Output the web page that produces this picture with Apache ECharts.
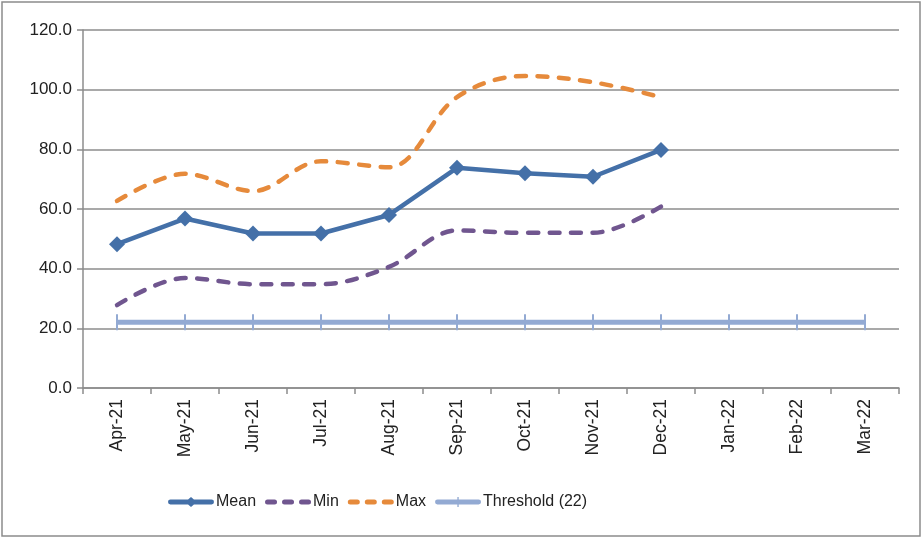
<!DOCTYPE html>
<html>
<head>
<meta charset="utf-8">
<script src="https://cdn.jsdelivr.net/npm/echarts@6/dist/echarts.min.js"></script>
<style>
  html, body { margin: 0; padding: 0; background: #fff; }
  #chart { width: 923px; height: 540px; }
</style>
</head>
<body>
<div id="chart"></div>
<script>
// Monthly readings, April 2021 – March 2022
const months = ['Apr-21', 'May-21', 'Jun-21', 'Jul-21', 'Aug-21', 'Sep-21',
                'Oct-21', 'Nov-21', 'Dec-21', 'Jan-22', 'Feb-22', 'Mar-22'];
const meanValues = [48.2, 56.8, 51.8, 51.8, 58.0, 73.8, 72.0, 70.8, 79.8];
const minValues  = [27.8, 36.9, 34.8, 34.8, 40.6, 52.8, 52.0, 52.0, 60.8];
const maxValues  = [62.7, 71.8, 66.0, 76.0, 74.0, 97.5, 104.6, 102.5, 97.5];
const thresholdValues = [22, 22, 22, 22, 22, 22, 22, 22, 22, 22, 22, 22];
const yTicks = { min: 0, max: 120, interval: 20 };

const FONT = '"Liberation Sans", Arial, sans-serif';
const GRID_GRAY = '#8c8c8c';
const C_MEAN = '#4470a8', C_MIN = '#70568f', C_MAX = '#e68a3b', C_THR = '#93aad3';

// Legend glyphs: every path spans the same 46x12 box so they scale alike
const capsule = x => `M${x + 2.5},3.5 H${x + 9.5} A2.5,2.5 0 0 1 ${x + 9.5},8.5 H${x + 2.5} A2.5,2.5 0 0 1 ${x + 2.5},3.5 Z`;
const ICON_BOX = 'M0,0 M46,12 ';
const ICON_MEAN = 'path://' + ICON_BOX +
  'M2,3.5 H20 L23,1 L26,3.5 H44 A2.5,2.5 0 0 1 44,8.5 H26 L23,11 L20,8.5 H2 A2.5,2.5 0 0 1 2,3.5 Z';
const ICON_DASH = 'path://' + ICON_BOX + capsule(0) + ' ' + capsule(17) + ' ' + capsule(34);
const ICON_THR = 'path://' + ICON_BOX +
  'M2,3.5 H22.3 V1 H23.7 V3.5 H44 A2.5,2.5 0 0 1 44,8.5 H23.7 V11 H22.3 V8.5 H2 A2.5,2.5 0 0 1 2,3.5 Z';

const chart = echarts.init(document.getElementById('chart'), null, { renderer: 'canvas' });

chart.setOption({
  animation: false,
  backgroundColor: '#fff',
  textStyle: { fontFamily: FONT, color: '#222' },
  graphic: [{
    type: 'rect',
    shape: { x: 2, y: 2, width: 918, height: 534 },
    style: { fill: 'none', stroke: '#8c8c8c', lineWidth: 1.5 },
    silent: true
  }],
  grid: { left: 83, right: 24, top: 30, bottom: 152 },
  legend: {
    top: 489,
    left: 163,
    itemWidth: 46,
    itemHeight: 12,
    itemGap: 9,
    textStyle: { fontFamily: FONT, fontSize: 16, color: '#222', padding: [0, 0, 0, -3] },
    data: [
      { name: 'Mean', icon: ICON_MEAN },
      { name: 'Min', icon: ICON_DASH },
      { name: 'Max', icon: ICON_DASH },
      { name: 'Threshold (22)', icon: ICON_THR }
    ]
  },
  xAxis: {
    type: 'category',
    data: months,
    boundaryGap: true,
    axisLine: { lineStyle: { color: GRID_GRAY, width: 1.5 } },
    axisTick: { show: true, length: 6, lineStyle: { color: GRID_GRAY, width: 1.5 } },
    axisLabel: { rotate: 90, margin: 11, fontFamily: FONT, fontSize: 17.5, color: '#222', interval: 0 },
    splitLine: { show: false }
  },
  yAxis: {
    type: 'value',
    min: yTicks.min,
    max: yTicks.max,
    interval: yTicks.interval,
    axisLine: { show: true, lineStyle: { color: GRID_GRAY, width: 1.5 } },
    axisTick: { show: true, length: 6, lineStyle: { color: GRID_GRAY, width: 1.5 } },
    axisLabel: { margin: 11, fontFamily: FONT, fontSize: 17, color: '#222',
                 formatter: v => v.toFixed(1) },
    splitLine: { show: true, lineStyle: { color: GRID_GRAY, width: 1.5 } }
  },
  series: [
    {
      name: 'Mean',
      type: 'line',
      data: meanValues,
      symbol: 'diamond',
      symbolSize: 16,
      z: 5,
      itemStyle: { color: C_MEAN },
      lineStyle: { color: C_MEAN, width: 4.5 }
    },
    {
      name: 'Min',
      type: 'line',
      data: minValues,
      smooth: 0.35,
      symbol: 'none',
      z: 3,
      itemStyle: { color: C_MIN },
      lineStyle: { color: C_MIN, width: 4.5, type: [10, 11.5], cap: 'round' }
    },
    {
      name: 'Max',
      type: 'line',
      data: maxValues,
      smooth: 0.35,
      symbol: 'none',
      z: 3,
      itemStyle: { color: C_MAX },
      lineStyle: { color: C_MAX, width: 4.5, type: [10, 11.5], cap: 'round' }
    },
    {
      name: 'Threshold (22)',
      type: 'line',
      data: thresholdValues,
      symbol: 'rect',
      symbolSize: [2, 16],
      z: 2,
      itemStyle: { color: C_THR },
      lineStyle: { color: C_THR, width: 5 }
    }
  ]
});
</script>
</body>
</html>
